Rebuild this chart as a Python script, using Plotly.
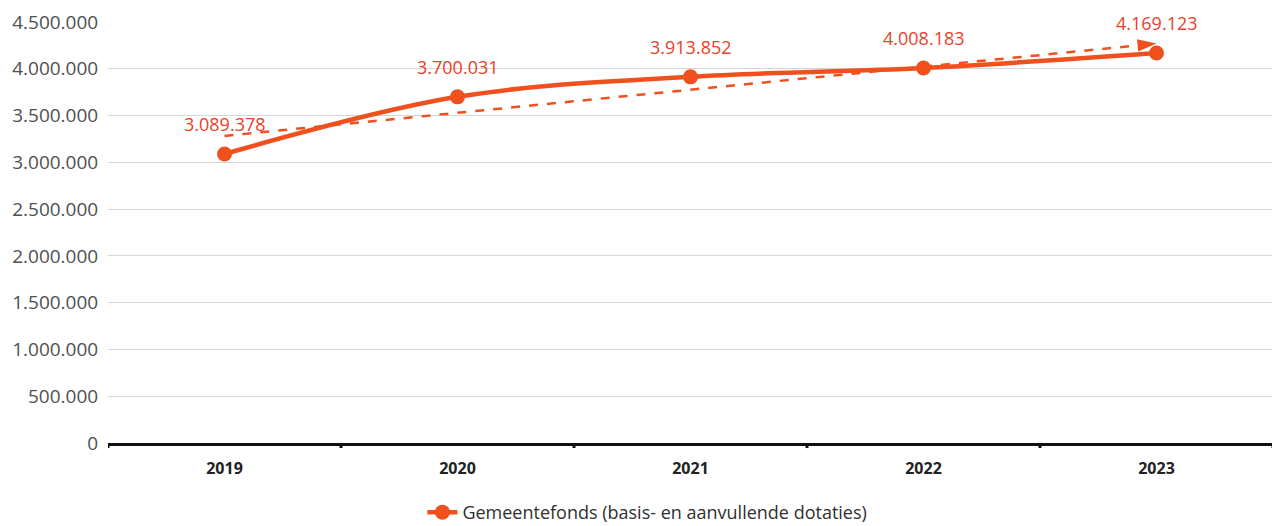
import plotly.graph_objects as go
import numpy as np

years = ["2019", "2020", "2021", "2022", "2023"]
values = [3089378, 3700031, 3913852, 4008183, 4169123]
series_name = "Gemeentefonds (basis- en aanvullende dotaties)"
y_ticks = [0, 500000, 1000000, 1500000, 2000000, 2500000, 3000000, 3500000, 4000000, 4500000]

LINE = "#F0501E"
LABEL = "#E8412A"

xs = list(range(len(years)))
labels = [f"{v:,}".replace(",", ".") for v in values]

# linear trendline (least squares) from the data
slope, intercept = np.polyfit(xs, values, 1)
trend = [intercept + slope * x for x in xs]

fig = go.Figure()

fig.add_trace(go.Scatter(
    x=xs, y=trend, mode="lines+markers",
    line=dict(color=LINE, width=2.5, dash="dash"),
    marker=dict(symbol=["circle"] * (len(xs) - 1) + ["arrow"],
                size=[0] * (len(xs) - 1) + [20],
                angleref="previous", color=LINE, opacity=1,
                line=dict(width=0)),
    showlegend=False, hoverinfo="skip",
))

fig.add_trace(go.Scatter(
    x=xs, y=values, mode="lines+markers",
    name=series_name,
    line=dict(color=LINE, width=4.5, shape="spline", smoothing=1),
    marker=dict(color=LINE, size=15),
))

for x, v, t in zip(xs, values, labels):
    fig.add_annotation(x=x, y=v, text=t, showarrow=False, yshift=30,
                       font=dict(color=LABEL, size=18, family="Open Sans"))

fig.update_layout(
    width=1272, height=518,
    margin=dict(l=100, r=7, t=14, b=83, autoexpand=False),
    paper_bgcolor="white", plot_bgcolor="white",
    separators=",.",
    font=dict(family="Open Sans", color="#505050"),
    legend=dict(orientation="h", x=0.463, xanchor="center", y=-0.165, yanchor="middle",
                font=dict(size=18, color="#303030")),
    xaxis=dict(
        range=[-0.5, 4.5], tickmode="array", tickvals=xs, ticktext=[f"<b>{y}</b>" for y in years],
        showgrid=False, zeroline=False, showline=True, linecolor="#111111", linewidth=3,
        ticks="outside", ticklen=9, tickcolor="rgba(0,0,0,0)",
        tickfont=dict(size=16, color="#222222"),
    ),
    yaxis=dict(
        range=[0, 4500000], tickmode="array", tickvals=y_ticks, tickformat=",d",
        showgrid=True, gridcolor="#D6D6D6", gridwidth=1, zeroline=False,
        tickfont=dict(size=19, color="#505050"), ticklabeloverflow="allow",
        ticks="outside", ticklen=5, tickcolor="rgba(0,0,0,0)",
    ),
)

# category boundary tick marks on the x axis
for b in [x - 0.5 for x in xs] + [len(xs) - 0.5]:
    fig.add_shape(type="line", xref="x", yref="paper", x0=b, x1=b, y0=0, y1=-0.012,
                  line=dict(color="#111111", width=3))

fig.write_html("out.html")
